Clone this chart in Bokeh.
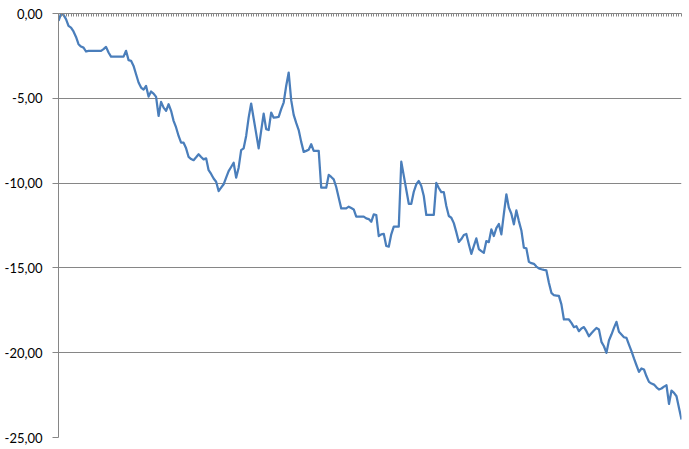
from bokeh.plotting import figure
from bokeh.models import Range1d, FixedTicker, CustomJSTickFormatter
from bokeh.embed import file_html
from bokeh.resources import INLINE

# --- data -------------------------------------------------------------
values = [
    -0.43, -0.03, -0.08, -0.33, -0.73, -0.83, -1.06, -1.38, -1.81, -1.95,
    -2.01, -2.24, -2.20, -2.20, -2.20, -2.20, -2.20, -2.20, -2.10, -1.97,
    -2.30, -2.54, -2.54, -2.54, -2.54, -2.54, -2.54, -2.20, -2.75, -2.79,
    -3.09, -3.58, -4.07, -4.37, -4.49, -4.27, -4.90, -4.60, -4.72, -4.92,
    -6.04, -5.21, -5.55, -5.74, -5.35, -5.74, -6.33, -6.72, -7.22, -7.62,
    -7.62, -7.95, -8.46, -8.58, -8.65, -8.48, -8.30, -8.46, -8.60, -8.54,
    -9.24, -9.46, -9.73, -9.92, -10.47, -10.27, -10.07, -9.68, -9.29, -9.05,
    -8.80, -9.68, -9.09, -8.06, -7.95, -7.22, -6.14, -5.31, -6.19, -7.07,
    -7.95, -6.92, -5.90, -6.82, -6.87, -5.84, -6.14, -6.12, -6.10, -5.64,
    -5.25, -4.27, -3.48, -5.11, -5.98, -6.45, -6.87, -7.57, -8.16, -8.10,
    -8.03, -7.71, -8.10, -8.10, -8.10, -10.27, -10.27, -10.27, -9.52, -9.64,
    -9.78, -10.23, -10.86, -11.49, -11.49, -11.49, -11.39, -11.47, -11.55, -11.98,
    -11.98, -11.98, -11.98, -12.08, -12.12, -12.28, -11.84, -11.88, -13.12, -13.02,
    -12.99, -13.71, -13.75, -13.02, -12.57, -12.57, -12.57, -8.74, -9.56, -10.39,
    -11.22, -11.22, -10.51, -10.07, -9.88, -10.17, -10.76, -11.88, -11.88, -11.88,
    -11.88, -9.99, -10.29, -10.53, -10.53, -11.35, -11.94, -12.04, -12.36, -12.89,
    -13.47, -13.30, -13.06, -13.00, -13.60, -14.17, -13.71, -13.26, -13.89, -14.01,
    -14.11, -13.42, -13.48, -12.73, -13.12, -12.65, -12.41, -13.02, -11.82, -10.66,
    -11.45, -11.81, -12.43, -11.61, -12.24, -12.79, -13.81, -13.85, -14.64, -14.72,
    -14.76, -14.92, -15.03, -15.08, -15.12, -15.15, -15.88, -16.47, -16.61, -16.63,
    -16.65, -17.15, -18.04, -18.04, -18.04, -18.24, -18.49, -18.44, -18.73, -18.57,
    -18.49, -18.73, -19.03, -18.85, -18.69, -18.54, -18.63, -19.36, -19.62, -20.01,
    -19.28, -18.93, -18.54, -18.18, -18.77, -18.93, -19.09, -19.13, -19.52, -19.91,
    -20.34, -20.74, -21.13, -20.93, -20.99, -21.39, -21.72, -21.82, -21.88, -22.04,
    -22.17, -22.11, -22.00, -21.92, -23.02, -22.23, -22.37, -22.57, -23.26, -23.94,
]
categories = list(range(len(values)))

y_ticks = [-25, -20, -15, -10, -5, 0]
y_tick_labels = ["-25,00", "-20,00", "-15,00", "-10,00", "-5,00", "0,00"]

# --- styling ----------------------------------------------------------
AXIS_GRAY = "#868686"
LINE_BLUE = "#4A7EBB"
FONT = "Lato"

p = figure(
    width=685, height=445,
    output_backend="svg", toolbar_location=None,
    x_axis_location="above", y_axis_location="left",
    x_range=Range1d(categories[0], categories[-1]),
    y_range=Range1d(y_ticks[0], y_ticks[-1]),
    min_border_left=58, min_border_right=4,
    min_border_top=13, min_border_bottom=8,
)
p.outline_line_color = None
p.background_fill_color = "white"
p.border_fill_color = "white"

p.line(categories, values, line_color=LINE_BLUE, line_width=2.25,
       line_join="round")

# horizontal (category) axis sitting at y = 0, on top
xa = p.xaxis[0]
xa.ticker = FixedTicker(ticks=categories)
xa.formatter = CustomJSTickFormatter(code="return ''")
xa.axis_line_color = AXIS_GRAY
xa.axis_line_width = 1
xa.major_tick_line_color = AXIS_GRAY
xa.major_tick_in = 3
xa.major_tick_out = 0
xa.minor_tick_line_color = None
xa.major_label_standoff = 0

# value axis
ya = p.yaxis[0]
ya.ticker = FixedTicker(ticks=y_ticks)
ya.major_label_overrides = {t: l for t, l in zip(y_ticks, y_tick_labels)}
ya.axis_line_color = AXIS_GRAY
ya.major_tick_line_color = AXIS_GRAY
ya.major_tick_in = 0
ya.major_tick_out = 6
ya.minor_tick_line_color = None
ya.major_label_standoff = 10
ya.major_label_text_font = FONT
ya.major_label_text_font_size = "13px"
ya.major_label_text_color = "#000000"

p.xgrid.grid_line_color = None
p.ygrid.grid_line_color = AXIS_GRAY
p.ygrid.grid_line_width = 1

open("out.html", "w").write(file_html(p, INLINE))
